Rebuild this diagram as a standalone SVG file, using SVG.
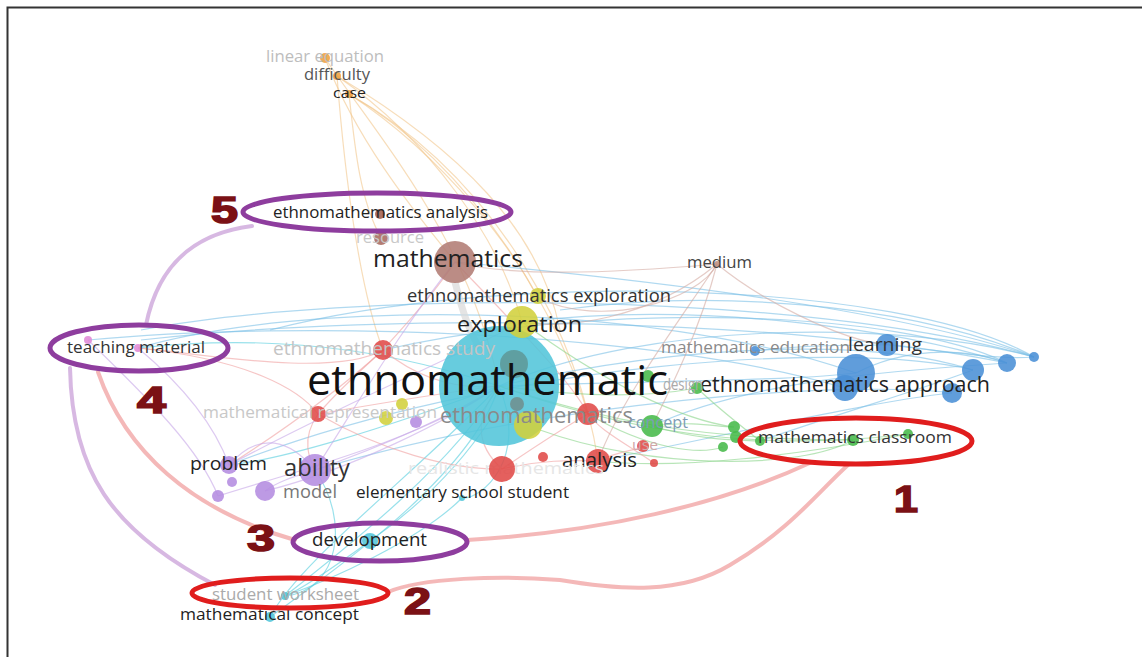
<svg xmlns="http://www.w3.org/2000/svg" width="1142" height="657" viewBox="0 0 1142 657">
<style>
text{font-family:"Open Sans","Liberation Sans",sans-serif}
.t{fill:none;stroke-width:1.2;opacity:.6}
.cb{stroke:#7cc0e6}.cc{stroke:#55cddd}.cg{stroke:#88d488}.cr{stroke:#f0a0a0}.cp{stroke:#c6a6e8}.co{stroke:#f2c68c}.cn{stroke:#d4aaa2}
.hl{fill:none;stroke-width:4;stroke-linecap:round;opacity:.75}
.ep{fill:none;stroke:#8e3d9e;stroke-width:5}
.er{fill:none;stroke:#e01d1d;stroke-width:5}
.num{font-family:"Liberation Sans",Arial,sans-serif;font-weight:bold;font-size:36px;fill:#7b1115;stroke:#7b1115;stroke-width:1.6}
.cy{fill:#52c5d9}.br{fill:#b27c74}.ye{fill:#d2d03c}.rd{fill:#e04a48}.gr{fill:#47ba4a}.bl{fill:#4a8fd6}.pu{fill:#b48ce0}.or{fill:#f0a040}.pk{fill:#e08ad6}
circle{opacity:.88}
</style>
<rect x="0" y="0" width="1142" height="657" fill="#fff"/>
<path d="M7.5,657 V7.5 H1142" fill="none" stroke="#333" stroke-width="2"/>

<g id="connectors">
<path class="t co" d="M325,58 C360,150 430,230 455,262"/>
<path class="t co" d="M337,76 C430,140 500,240 522,322"/>
<path class="t co" d="M349,94 C450,160 520,260 537,297"/>
<path class="t co" d="M349,94 C480,170 560,320 588,414"/>
<path class="t co" d="M337,76 C345,180 360,290 383,350"/>
<path class="t co" d="M349,94 C355,150 360,200 381,238"/>
<path class="t co" d="M325,58 C380,140 470,240 499,386"/>
<path class="t co" d="M349,94 C500,180 580,340 598,461"/>
<path class="t co" d="M337,76 C460,150 540,230 560,330"/>

<path class="t cb" d="M141,330 C350,290 800,290 1034,357"/>
<path class="t cb" d="M141,340 C400,310 800,320 1007,363"/>
<path class="t cb" d="M270,330 C500,270 900,280 1034,357"/>
<path class="t cb" d="M383,350 C600,300 900,310 1007,363"/>
<path class="t cb" d="M499,386 C650,320 900,320 1034,357"/>
<path class="t cb" d="M499,386 C700,340 880,340 973,370"/>
<path class="t cb" d="M522,322 C700,300 900,330 1007,363"/>
<path class="t cb" d="M455,262 C650,280 900,310 1034,357"/>
<path class="t cb" d="M315,470 C550,400 850,380 952,393"/>
<path class="t cb" d="M229,465 C500,360 850,340 973,370"/>
<path class="t cb" d="M598,461 C750,430 880,400 952,393"/>
<path class="t cb" d="M652,426 C750,380 900,370 1007,363"/>
<path class="t cb" d="M760,441 C850,410 920,390 973,370"/>
<path class="t cb" d="M887,345 C940,350 990,360 1034,357"/>
<path class="t cb" d="M856,373 C900,350 960,345 1007,363"/>
<path class="t cb" d="M755,351 C800,345 850,345 887,345"/>
<path class="t cb" d="M138,348 C300,300 650,300 856,373"/>
<path class="t cb" d="M560,310 C700,290 900,300 1034,357"/>
<path class="t cb" d="M499,386 C700,380 800,380 856,373"/>
<path class="t cb" d="M88,340 C300,320 650,330 845,388"/>

<path class="t cc" d="M499,386 C450,470 330,560 285,596"/>
<path class="t cc" d="M499,386 C470,480 320,580 270,617"/>
<path class="t cc" d="M490,420 C450,480 400,520 370,541"/>
<path class="t cc" d="M462,498 C420,540 330,580 285,596"/>
<path class="t cc" d="M499,386 C420,470 300,560 270,617"/>
<path class="t cc" d="M370,541 C330,570 300,590 285,596"/>
<path class="t cc" d="M499,386 C530,460 480,500 462,498"/>
<path class="t cc" d="M499,386 C380,430 280,460 229,465"/>
<path class="t cc" d="M315,470 C350,520 340,590 285,596"/>
<path class="t cc" d="M138,348 C300,330 420,360 499,386"/>

<path class="t cg" d="M652,426 C700,440 730,440 760,441"/>
<path class="t cg" d="M499,386 C650,440 780,450 908,434"/>
<path class="t cg" d="M499,386 C600,420 700,440 853,440"/>
<path class="t cg" d="M652,426 C700,420 720,428 734,427"/>
<path class="t cg" d="M588,414 C650,450 700,455 723,447"/>
<path class="t cg" d="M697,388 C720,410 740,425 760,441"/>
<path class="t cg" d="M522,322 C600,380 680,420 734,427"/>
<path class="t cg" d="M598,461 C680,470 800,455 908,434"/>
<path class="t cg" d="M499,386 C600,400 660,395 697,388"/>
<path class="t cg" d="M540,430 C650,470 800,470 853,440"/>

<path class="t cr" d="M383,350 C420,380 460,390 499,386"/>
<path class="t cr" d="M318,414 C400,400 460,390 499,386"/>
<path class="t cr" d="M383,350 C350,380 330,400 318,414"/>
<path class="t cr" d="M502,469 C540,460 570,460 598,461"/>
<path class="t cr" d="M502,469 C470,440 480,410 499,386"/>
<path class="t cr" d="M588,414 C560,430 530,450 502,469"/>
<path class="t cr" d="M318,414 C300,440 310,460 315,470"/>
<path class="t cr" d="M138,348 C250,360 300,390 318,414"/>
<path class="t cr" d="M383,350 C330,380 180,350 138,348"/>
<path class="t cr" d="M455,262 C430,300 400,330 383,350"/>
<path class="t cr" d="M598,461 C620,450 640,450 643,446"/>
<path class="t cr" d="M654,463 C620,440 600,430 588,414"/>
<path class="t cr" d="M318,414 C380,450 450,470 502,469"/>
<path class="t cr" d="M229,465 C300,420 350,380 383,350"/>
<path class="t cr" d="M455,262 C520,330 570,380 588,414"/>

<path class="t cp" d="M315,470 C400,440 460,410 499,386"/>
<path class="t cp" d="M229,465 C260,430 290,440 315,470"/>
<path class="t cp" d="M265,491 C350,470 450,420 499,386"/>
<path class="t cp" d="M218,496 C300,470 420,440 499,386"/>
<path class="t cp" d="M138,348 C200,400 220,440 229,465"/>
<path class="t cp" d="M88,340 C150,400 200,450 218,496"/>
<path class="t cp" d="M229,465 C350,400 450,360 522,322"/>
<path class="t cp" d="M315,470 C360,400 400,330 455,262"/>
<path class="t cp" d="M265,491 C280,480 300,475 315,470"/>

<path class="t cn" d="M717,264 C650,270 520,280 455,262"/>
<path class="t cn" d="M717,264 C650,320 560,330 522,322"/>
<path class="t cn" d="M717,264 C680,320 620,400 598,461"/>
<path class="t cn" d="M717,264 C700,330 670,390 652,426"/>
<path class="t cn" d="M717,264 C760,300 840,340 887,345"/>
<path class="t cn" d="M717,264 C700,300 600,330 537,297"/>

<path d="M455,282 C462,310 470,335 480,348" fill="none" stroke="#d8d8d8" stroke-width="7" opacity=".7"/>

<path class="hl" stroke="#c9a0d8" d="M252,226 C205,232 160,255 146,325"/>
<path class="hl" stroke="#c9a0d8" d="M70,368 C72,470 110,530 215,585"/>
<path class="hl" stroke="#f0a0a0" d="M98,372 C125,450 190,510 295,540"/>
<path class="hl" stroke="#f0a0a0" d="M467,540 C600,532 720,505 812,462"/>
<path class="hl" stroke="#f0a0a0" d="M388,592 C420,578 500,575 560,580 C620,590 680,595 730,565 C790,530 820,490 848,465"/>
</g>

<g id="n-ethnomathematic"><circle class="cy" cx="499" cy="386" r="60"/><circle cx="514" cy="364" r="14" fill="#5f9898" opacity=".45"/><circle cx="517" cy="404" r="7" fill="#6f8f8f" opacity=".45"/></g>
<g id="n-mathematics"><circle class="br" cx="455" cy="262" r="21"/><text x="373" y="267" font-size="24" fill="#222" textLength="150" lengthAdjust="spacingAndGlyphs">mathematics</text></g>
<g id="n-exploration"><circle class="ye" cx="522" cy="322" r="16"/><text x="457" y="332" font-size="22" fill="#222" textLength="125" lengthAdjust="spacingAndGlyphs">exploration</text></g>
<g id="n-ethnomathematics-exploration"><circle class="ye" cx="538" cy="296" r="8"/><text x="407" y="302" font-size="18" fill="#333" textLength="264" lengthAdjust="spacingAndGlyphs">ethnomathematics exploration</text></g>
<g id="n-ethnomathematics-analysis"><circle cx="380" cy="214" r="5" fill="#a06050"/><text x="273" y="218" font-size="17" fill="#222" textLength="215" lengthAdjust="spacingAndGlyphs">ethnomathematics analysis</text></g>
<g id="n-resource"><circle cx="381" cy="238" r="7" fill="#a86a60"/><text x="356" y="243" font-size="17" fill="#c8c8c8" textLength="68" lengthAdjust="spacingAndGlyphs">resource</text></g>
<g id="n-linear-equation"><circle class="or" cx="325" cy="58" r="5"/><text x="266" y="62" font-size="16" fill="#bdbdbd" textLength="118" lengthAdjust="spacingAndGlyphs">linear equation</text></g>
<g id="n-difficulty"><circle class="or" cx="337" cy="76" r="4"/><text x="304" y="80" font-size="16" fill="#555" textLength="66" lengthAdjust="spacingAndGlyphs">difficulty</text></g>
<g id="n-case"><circle class="or" cx="349" cy="94" r="4"/><text x="333" y="98" font-size="15" fill="#222" textLength="33" lengthAdjust="spacingAndGlyphs">case</text></g>
<g id="n-medium"><circle cx="717" cy="264" r="3" fill="#c09080"/><text x="687" y="268" font-size="16" fill="#444" textLength="65" lengthAdjust="spacingAndGlyphs">medium</text></g>
<g id="n-ethnomathematics-study"><circle class="rd" cx="383" cy="350" r="10"/><text x="273" y="355" font-size="19" fill="#c4c4c4" textLength="222" lengthAdjust="spacingAndGlyphs">ethnomathematics study</text></g>
<g id="n-teaching-material"><circle class="pk" cx="88" cy="340" r="4"/><circle class="pk" cx="138" cy="348" r="4"/><text x="67" y="353" font-size="16" fill="#333" textLength="138" lengthAdjust="spacingAndGlyphs">teaching material</text></g>
<g id="n-ethnomathematics-approach"><circle class="bl" cx="856" cy="373" r="19"/><circle class="bl" cx="845" cy="388" r="13"/><circle class="bl" cx="952" cy="393" r="10"/><circle class="bl" cx="973" cy="370" r="11"/><circle class="bl" cx="1007" cy="363" r="9"/><circle class="bl" cx="1034" cy="357" r="5"/><text x="700" y="392" font-size="21" fill="#222" textLength="290" lengthAdjust="spacingAndGlyphs">ethnomathematics approach</text></g>
<g id="n-mathematics-education"><circle class="bl" cx="755" cy="351" r="5"/><text x="661" y="353" font-size="17" fill="#8a8a8a" textLength="189" lengthAdjust="spacingAndGlyphs">mathematics education</text></g>
<g id="n-learning"><circle class="bl" cx="887" cy="345" r="11"/><text x="848" y="351" font-size="19" fill="#333" textLength="74" lengthAdjust="spacingAndGlyphs">learning</text></g>
<g id="n-design"><circle class="gr" cx="648" cy="376" r="6"/><circle class="gr" cx="697" cy="388" r="6"/><text x="663" y="390" font-size="16" fill="#aaa" textLength="40" lengthAdjust="spacingAndGlyphs">design</text></g>
<g id="n-ethnomathematics"><circle class="ye" cx="528" cy="425" r="14"/><circle class="rd" cx="588" cy="414" r="11"/><text x="440" y="423" font-size="21" fill="#8a8a8a" textLength="193" lengthAdjust="spacingAndGlyphs">ethnomathematics</text></g>
<g id="n-concept"><circle class="gr" cx="652" cy="426" r="11"/><text x="628" y="428" font-size="16" fill="#7d9db5" textLength="60" lengthAdjust="spacingAndGlyphs">concept</text></g>
<g id="n-use"><circle class="rd" cx="643" cy="446" r="6"/><text x="632" y="450" font-size="15" fill="#d0a8a8" textLength="26" lengthAdjust="spacingAndGlyphs">use</text></g>
<g id="n-analysis"><circle class="rd" cx="598" cy="461" r="12"/><circle class="rd" cx="654" cy="463" r="4"/><circle class="rd" cx="543" cy="457" r="5"/><text x="562" y="467" font-size="20" fill="#222" textLength="75" lengthAdjust="spacingAndGlyphs">analysis</text></g>
<g id="n-realistic-mathematics"><text x="408" y="474" font-size="17" fill="#e6e6e6" textLength="196" lengthAdjust="spacingAndGlyphs">realistic mathematics</text><circle class="rd" cx="502" cy="469" r="13"/></g>
<g id="n-mathematics-classroom"><circle class="gr" cx="734" cy="427" r="6"/><circle class="gr" cx="736" cy="437" r="6"/><circle class="gr" cx="723" cy="447" r="5"/><circle class="gr" cx="760" cy="441" r="5"/><circle class="gr" cx="853" cy="440" r="6"/><circle class="gr" cx="908" cy="434" r="5"/><text x="758" y="443" font-size="17" fill="#333" textLength="194" lengthAdjust="spacingAndGlyphs">mathematics classroom</text></g>
<g id="n-mathematical-representation"><circle class="rd" cx="318" cy="414" r="8"/><circle class="ye" cx="402" cy="404" r="6"/><circle class="ye" cx="386" cy="418" r="7"/><circle class="pu" cx="416" cy="422" r="6"/><text x="203" y="418" font-size="17" fill="#c8c8c8" textLength="234" lengthAdjust="spacingAndGlyphs">mathematical representation</text></g>
<g id="n-problem"><circle class="pu" cx="229" cy="465" r="9"/><text x="190" y="470" font-size="19" fill="#222" textLength="77" lengthAdjust="spacingAndGlyphs">problem</text></g>
<g id="n-ability"><circle class="pu" cx="315" cy="470" r="16"/><text x="284" y="476" font-size="23" fill="#333" textLength="66" lengthAdjust="spacingAndGlyphs">ability</text></g>
<g id="n-model"><circle class="pu" cx="265" cy="491" r="10"/><circle class="pu" cx="218" cy="496" r="6"/><circle class="pu" cx="232" cy="482" r="5"/><text x="283" y="498" font-size="18" fill="#777" textLength="54" lengthAdjust="spacingAndGlyphs">model</text></g>
<g id="n-elementary-school-student"><circle class="cy" cx="462" cy="498" r="3"/><text x="356" y="498" font-size="17" fill="#222" textLength="213" lengthAdjust="spacingAndGlyphs">elementary school student</text></g>
<g id="n-development"><circle class="cy" cx="370" cy="541" r="8"/><text x="312" y="546" font-size="18" fill="#222" textLength="115" lengthAdjust="spacingAndGlyphs">development</text></g>
<g id="n-student-worksheet"><circle class="cy" cx="285" cy="596" r="4"/><text x="212" y="600" font-size="17" fill="#aaa" textLength="147" lengthAdjust="spacingAndGlyphs">student worksheet</text></g>
<g id="n-mathematical-concept"><circle class="cy" cx="270" cy="617" r="5"/><text x="180" y="620" font-size="17" fill="#222" textLength="179" lengthAdjust="spacingAndGlyphs">mathematical concept</text></g>
<g id="n-ethnomathematic-label"><text x="307" y="395" font-size="42" fill="#111" textLength="361" lengthAdjust="spacingAndGlyphs">ethnomathematic</text></g>

<g id="highlights">
<ellipse class="ep" cx="377" cy="212" rx="134" ry="19"/>
<ellipse class="ep" cx="139" cy="348" rx="89" ry="23"/>
<ellipse class="ep" cx="380" cy="542" rx="87" ry="19"/>
<ellipse class="er" cx="290" cy="593" rx="98" ry="15"/>
<ellipse class="er" cx="856" cy="441" rx="116" ry="23"/>
<text class="num" x="211" y="223" textLength="27" lengthAdjust="spacingAndGlyphs">5</text>
<text class="num" x="137" y="413" textLength="29" lengthAdjust="spacingAndGlyphs">4</text>
<text class="num" x="247" y="551" textLength="28" lengthAdjust="spacingAndGlyphs">3</text>
<text class="num" x="404" y="614" textLength="27" lengthAdjust="spacingAndGlyphs">2</text>
<text class="num" x="894" y="512" textLength="24" lengthAdjust="spacingAndGlyphs">1</text>
</g>
</svg>
